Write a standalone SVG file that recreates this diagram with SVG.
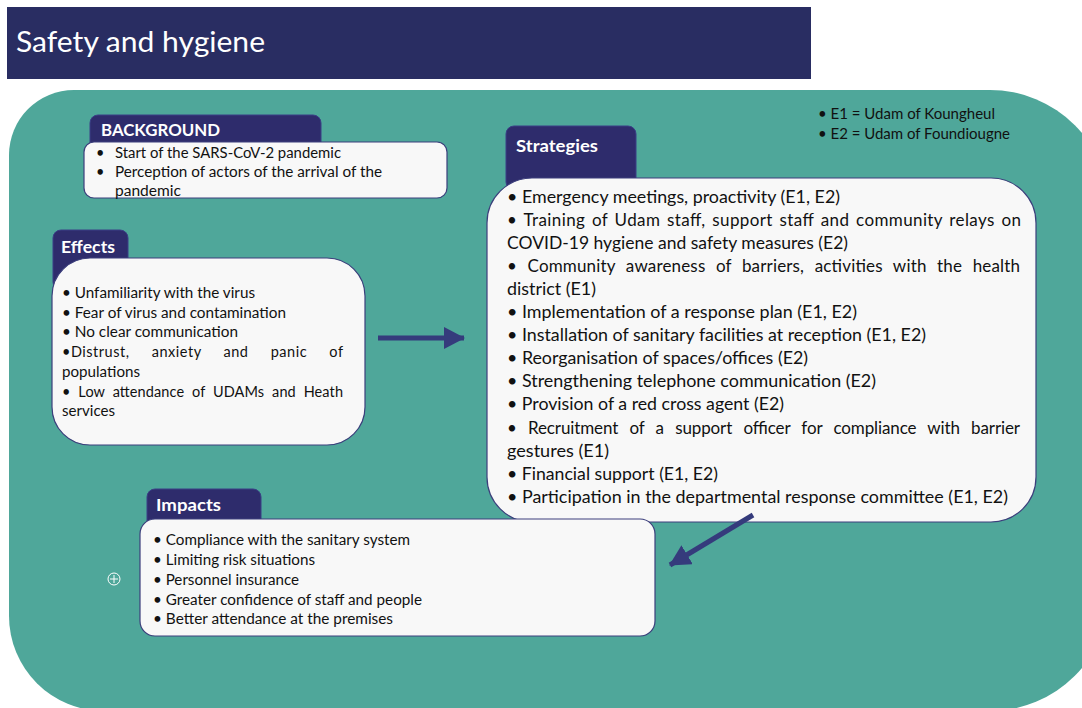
<svg xmlns="http://www.w3.org/2000/svg" width="1082" height="708" viewBox="0 0 1082 708">
<style>
text{font-family:Lato,"Liberation Sans",sans-serif;}
.t{font-size:14.5px;fill:#111;}
.s{font-size:17px;fill:#111;}
.h{font-size:17px;font-weight:bold;fill:#fff;}
.tab{fill:#2e2c6c;stroke:#3a3f86;stroke-width:1;}
.box{fill:#f8f8f8;stroke:#3c3f7c;stroke-width:1.2;}
.arr{stroke:#353b7c;stroke-width:5;fill:none;}
</style>
<defs>
<marker id="ah" markerUnits="userSpaceOnUse" markerWidth="22" markerHeight="24" refX="20" refY="11" orient="auto">
<polygon points="0,0 21,11 0,22" fill="#353b7c"/>
</marker>
</defs>
<rect width="1082" height="708" fill="#fff"/>
<g id="title">
<rect x="7" y="7" width="804" height="72" fill="#292d62"/>
<text x="16" y="52" style="font-size:28px;fill:#fff" textLength="249" lengthAdjust="spacingAndGlyphs">Safety and hygiene</text>
</g>
<path id="panel" d="M74,90 H990 A120,120 0 0 1 1110,210 V591 A120,120 0 0 1 990,711 H104 A95,95 0 0 1 9,616 V155 A65,65 0 0 1 74,90 Z" fill="#4fa79a"/>
<g id="legend">
<text class="t" x="818" y="119" style="font-size:15px" textLength="177" lengthAdjust="spacingAndGlyphs">• E1 = Udam of Koungheul</text>
<text class="t" x="818" y="139" style="font-size:15px" textLength="192" lengthAdjust="spacingAndGlyphs">• E2 = Udam of Foundiougne</text>
</g>
<g id="background">
<rect class="tab" x="90" y="115" width="231" height="40" rx="8"/>
<text class="h" x="101" y="136" textLength="119" lengthAdjust="spacingAndGlyphs">BACKGROUND</text>
<rect class="box" x="84" y="142" width="363" height="56" rx="10"/>
<text class="t" x="96" y="158">•</text>
<text class="t" x="115" y="158" textLength="226" lengthAdjust="spacingAndGlyphs">Start of the SARS-CoV-2 pandemic</text>
<text class="t" x="96" y="177">•</text>
<text class="t" x="115" y="177" textLength="267" lengthAdjust="spacingAndGlyphs">Perception of actors of the arrival of the</text>
<text class="t" x="115" y="196" textLength="66" lengthAdjust="spacingAndGlyphs">pandemic</text>
</g>
<g id="effects">
<rect class="tab" x="53" y="230" width="75" height="60" rx="8"/>
<text class="h" x="61" y="253" textLength="54" lengthAdjust="spacingAndGlyphs">Effects</text>
<rect class="box" x="52" y="258" width="313" height="187" rx="38"/>
<text class="t" x="62" y="298" textLength="193" lengthAdjust="spacingAndGlyphs">• Unfamiliarity with the virus</text>
<text class="t" x="62" y="318" textLength="224" lengthAdjust="spacingAndGlyphs">• Fear of virus and contamination</text>
<text class="t" x="62" y="337" textLength="176" lengthAdjust="spacingAndGlyphs">• No clear communication</text>
<text class="t" x="62" y="357" style="word-spacing:18px" textLength="281" lengthAdjust="spacing">•Distrust, anxiety and panic of</text>
<text class="t" x="62" y="377" textLength="78" lengthAdjust="spacingAndGlyphs">populations</text>
<text class="t" x="62" y="397" style="word-spacing:4px" textLength="281" lengthAdjust="spacing">• Low attendance of UDAMs and Heath</text>
<text class="t" x="62" y="416" textLength="53" lengthAdjust="spacingAndGlyphs">services</text>
</g>
<g id="strategies">
<rect class="tab" x="506" y="126" width="130" height="64" rx="8"/>
<text class="h" x="516" y="152" textLength="82" lengthAdjust="spacingAndGlyphs">Strategies</text>
<rect class="box" x="487" y="178" width="549" height="344" rx="45"/>
<text class="s" x="507" y="203" textLength="333" lengthAdjust="spacingAndGlyphs">• Emergency meetings, proactivity (E1, E2)</text>
<text class="s" x="507" y="226" style="word-spacing:2px" textLength="514" lengthAdjust="spacing">• Training of Udam staff, support staff and community relays on</text>
<text class="s" x="507" y="249" textLength="341" lengthAdjust="spacingAndGlyphs">COVID-19 hygiene and safety measures (E2)</text>
<text class="s" x="507" y="272" style="word-spacing:6px" textLength="513" lengthAdjust="spacing">• Community awareness of barriers, activities with the health</text>
<text class="s" x="507" y="295" textLength="89" lengthAdjust="spacingAndGlyphs">district (E1)</text>
<text class="s" x="507" y="318" textLength="350" lengthAdjust="spacingAndGlyphs">• Implementation of a response plan (E1, E2)</text>
<text class="s" x="507" y="341" textLength="419" lengthAdjust="spacingAndGlyphs">• Installation of sanitary facilities at reception (E1, E2)</text>
<text class="s" x="507" y="364" textLength="301" lengthAdjust="spacingAndGlyphs">• Reorganisation of spaces/offices (E2)</text>
<text class="s" x="507" y="387" textLength="369" lengthAdjust="spacingAndGlyphs">• Strengthening telephone communication (E2)</text>
<text class="s" x="507" y="410" textLength="277" lengthAdjust="spacingAndGlyphs">• Provision of a red cross agent (E2)</text>
<text class="s" x="507" y="434" style="word-spacing:7px" textLength="513" lengthAdjust="spacing">• Recruitment of a support officer for compliance with barrier</text>
<text class="s" x="507" y="457" textLength="102" lengthAdjust="spacingAndGlyphs">gestures (E1)</text>
<text class="s" x="507" y="480" textLength="211" lengthAdjust="spacingAndGlyphs">• Financial support (E1, E2)</text>
<text class="s" x="507" y="503" textLength="501" lengthAdjust="spacingAndGlyphs">• Participation in the departmental response committee (E1, E2)</text>
</g>
<g id="impacts">
<rect class="tab" x="147" y="489" width="114" height="40" rx="8"/>
<text class="h" x="156" y="511" textLength="65" lengthAdjust="spacingAndGlyphs">Impacts</text>
<rect class="box" x="140" y="519" width="515" height="117" rx="15"/>
<text class="t" x="153" y="545" textLength="257" lengthAdjust="spacingAndGlyphs">• Compliance with the sanitary system</text>
<text class="t" x="153" y="565" textLength="162" lengthAdjust="spacingAndGlyphs">• Limiting risk situations</text>
<text class="t" x="153" y="585" textLength="146" lengthAdjust="spacingAndGlyphs">• Personnel insurance</text>
<text class="t" x="153" y="605" textLength="269" lengthAdjust="spacingAndGlyphs">• Greater confidence of staff and people</text>
<text class="t" x="153" y="624" textLength="240" lengthAdjust="spacingAndGlyphs">• Better attendance at the premises</text>
</g>
<g id="plus-icon" fill="none" stroke="#fff" stroke-width="1">
<circle cx="114" cy="579" r="6"/>
<path d="M110,579 H118 M114,575 V583"/>
</g>
<g id="connectors">
<line class="arr" x1="378" y1="338" x2="464" y2="338" marker-end="url(#ah)"/>
<line class="arr" x1="753" y1="515" x2="670" y2="565" marker-end="url(#ah)"/>
</g>
</svg>
